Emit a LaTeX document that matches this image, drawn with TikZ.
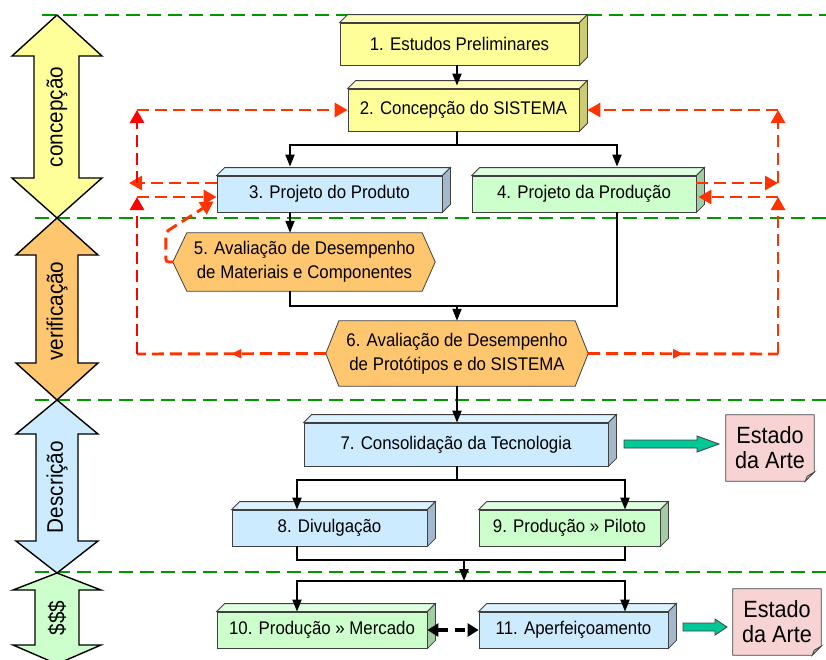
\documentclass[tikz,border=0pt]{standalone}
\usepackage{fontspec}
\setmainfont{Liberation Sans}[FakeStretch=0.92]
\usetikzlibrary{arrows.meta,decorations.markings,backgrounds}
\definecolor{yfront}{HTML}{FFFF99}
\definecolor{ytop}{HTML}{FFFFBB}
\definecolor{yside}{HTML}{CCCC77}
\definecolor{bfront}{HTML}{CCEBFF}
\definecolor{btop}{HTML}{DDF2FF}
\definecolor{bside}{HTML}{A3B8CC}
\definecolor{gfront}{HTML}{CCFFCC}
\definecolor{gtop}{HTML}{E0FFE0}
\definecolor{gside}{HTML}{A3CCA3}
\definecolor{ofront}{HTML}{FFC670}
\definecolor{pinkfill}{HTML}{F8D3D3}
\definecolor{pinkfold}{HTML}{E0B8B8}
\definecolor{teal}{HTML}{00C896}
\definecolor{fbred}{HTML}{FF3300}
\definecolor{gdash}{HTML}{009900}
\definecolor{edge}{HTML}{404040}
\newcommand{\boxfaces}[3]{%
  \filldraw[boxline,fill=#2] (#1.north west) -- ++(8,-8) -- ([shift={(8,-8)}]#1.north east) -- (#1.north east) -- cycle;
  \filldraw[boxline,fill=#3] (#1.north east) -- ++(8,-8) -- ([shift={(8,-8)}]#1.south east) -- (#1.south east) -- cycle;
}
\begin{document}
\begin{tikzpicture}[x=1pt,y=-1pt,
  boxline/.style={draw=edge,line width=0.8pt},
  cube/.style={boxline,rectangle,inner sep=0pt,font=\fontsize{18.3}{24}\selectfont,align=center},
  hexnode/.style={rectangle,inner sep=0pt,font=\fontsize{18.3}{24}\selectfont,align=center},
  estado/.style={rectangle,inner sep=0pt,minimum width=88pt,minimum height=66pt,font=\fontsize{23.5}{25}\selectfont,align=center},
  bandlabel/.style={rotate=90,inner sep=0pt,font=\fontsize{22.5}{24}\selectfont},
  band/.style={draw=black,line width=1.4pt,line join=miter},
  plain/.style={line width=1.9pt,line join=miter},
  conn/.style={plain,-{Triangle[length=12pt,width=9pt]}},
  fb/.style={draw=fbred,line width=2.9pt,dash pattern=on 12pt off 6pt},
  fbarrow/.style={fb,-{Triangle[length=13pt,width=14pt]}},
  midarrow/.style={postaction={decorate},decoration={markings,mark=at position 0.5 with {\arrow{Triangle[length=10pt,width=9pt]}}}},
  gline/.style={draw=gdash,line width=1.8pt,dash pattern=on 14pt off 7pt},
  blockarrow/.style={fill=teal,draw=edge,line width=0.8pt}
]
\useasboundingbox (0,0) rectangle (826,659);
\clip (0,0) rectangle (826,659);

% green dashed band separators
\draw[gline] (42,15) -- (826,15);
\draw[gline] (35,218) -- (826,218);
\draw[gline] (35,400) -- (826,400);
\draw[gline] (35,572) -- (826,572);

% left double block arrows
\filldraw[band,fill=yfront] (57,15) -- (102,56) -- (79,56) -- (79,178) -- (102,178) -- (57,218) -- (12,178) -- (34,178) -- (34,56) -- (12,56) -- cycle;
\filldraw[band,fill=ofront] (57,218) -- (98,255) -- (78,255) -- (78,363) -- (98,363) -- (57,400) -- (16,363) -- (36,363) -- (36,255) -- (16,255) -- cycle;
\filldraw[band,fill=bfront] (57,400) -- (98,434) -- (78,434) -- (78,541) -- (98,541) -- (57,573) -- (16,541) -- (36,541) -- (36,434) -- (16,434) -- cycle;
\filldraw[band,fill=gfront] (57,573) -- (101,590) -- (79,590) -- (79,645) -- (101,645) -- (57,664) -- (13,645) -- (35,645) -- (35,590) -- (13,590) -- cycle;
\node[bandlabel] (l1) at (57,117) {concepção};
\node[bandlabel] (l2) at (57,311) {verificação};
\node[bandlabel] (l3) at (57,487) {Descrição};
\node[bandlabel] (l4) at (57,618) {\$\$\$};

% boxes
\node[cube,fill=yfront,minimum width=239pt,minimum height=42pt] (b1) at (459.5,44) {1. Estudos Preliminares};
\boxfaces{b1}{ytop}{yside}
\node[cube,fill=yfront,minimum width=231pt,minimum height=42pt] (b2) at (463.5,110) {2. Concepção do SISTEMA};
\boxfaces{b2}{ytop}{yside}
\node[cube,fill=bfront,minimum width=225pt,minimum height=36pt] (b3) at (329.5,194) {3. Projeto do Produto};
\boxfaces{b3}{btop}{bside}
\node[cube,fill=gfront,minimum width=224pt,minimum height=36pt] (b4) at (584,194) {4. Projeto da Produção};
\boxfaces{b4}{gtop}{gside}

\node[hexnode,minimum width=235pt,minimum height=58pt] (b5) at (304.5,262) {5. Avaliação de Desempenho\\de Materiais e Componentes};
\begin{scope}[on background layer]
\filldraw[boxline,fill=ofront] (b5.north west) -- (b5.north east) -- ([xshift=13pt]b5.east) -- (b5.south east) -- (b5.south west) -- ([xshift=-14pt]b5.west) -- cycle;
\end{scope}
\node[hexnode,minimum width=236pt,minimum height=65pt] (b6) at (457,353.5) {6. Avaliação de Desempenho\\de Protótipos e do SISTEMA};
\begin{scope}[on background layer]
\filldraw[boxline,fill=ofront] (b6.north west) -- (b6.north east) -- ([xshift=13pt]b6.east) -- (b6.south east) -- (b6.south west) -- ([xshift=-13pt]b6.west) -- cycle;
\end{scope}

\node[cube,fill=bfront,minimum width=304pt,minimum height=43pt] (b7) at (456,444.5) {7. Consolidação da Tecnologia};
\boxfaces{b7}{btop}{bside}
\node[cube,fill=bfront,minimum width=195pt,minimum height=36pt] (b8) at (329.5,528) {8. Divulgação};
\boxfaces{b8}{btop}{bside}
\node[cube,fill=gfront,minimum width=181pt,minimum height=36pt] (b9) at (569.5,528) {9. Produção » Piloto};
\boxfaces{b9}{gtop}{gside}
\node[cube,fill=gfront,minimum width=210pt,minimum height=36pt] (b10) at (322,630) {10. Produção » Mercado};
\boxfaces{b10}{gtop}{gside}
\node[cube,fill=bfront,minimum width=189pt,minimum height=36pt] (b11) at (573.5,630) {11. Aperfeiçoamento};
\boxfaces{b11}{btop}{bside}

% Estado da Arte notes
\node[estado] (e1) at (770,448) {Estado\\da Arte};
\node[estado] (e2) at (777,622) {Estado\\da Arte};
\begin{scope}[on background layer]
\foreach \e in {e1,e2}{
  \filldraw[boxline,fill=pinkfill] (\e.north west) -- (\e.north east) -- ([yshift=9pt]\e.south east) -- ([xshift=-9pt]\e.south east) -- (\e.south west) -- cycle;
  \filldraw[boxline,fill=pinkfold] ([yshift=9pt]\e.south east) -- ([xshift=-9pt]\e.south east) -- ([xshift=-7pt,yshift=5pt]\e.south east) -- cycle;
}
\end{scope}

% teal block arrows
\filldraw[blockarrow] (624,440) -- (697,440) -- (697,436) -- (719,444) -- (697,452) -- (697,448) -- (624,448) -- cycle;
\filldraw[blockarrow] (683,623) -- (715,623) -- (715,619) -- (727,627) -- (715,635) -- (715,631) -- (683,631) -- cycle;

% black connectors
\coordinate (h1) at (457,145);
\coordinate (x3) at (290,0);
\coordinate (x4) at (617,0);
\coordinate (h2) at (457,306);
\coordinate (h3) at (457,480);
\coordinate (x8) at (297,0);
\coordinate (x9) at (625,0);
\coordinate (h4) at (464,560);
\coordinate (h5) at (464,581);

\draw[conn] (b1.south -| h1) -- ([yshift=3pt]b2.north -| h1);
\draw[plain] (b2.south -| h1) -- (h1);
\draw[conn] (h1) -| ([yshift=9pt]x3 |- b3.north);
\draw[conn] (h1) -| ([yshift=9pt]x4 |- b4.north);
\draw[conn] (x3 |- b3.south) -- (x3 |- b5.north);
\draw[plain] (x3 |- b5.south) |- (x4 |- h2) -- (x4 |- b4.south);
\draw[conn] (h2) -- (h2 |- b6.north);
\draw[conn] (b6.south) -- (b6.south |- b7.north);
\draw[plain] (h3 |- b7.south) -- (h3);
\draw[conn] (h3) -| (x8 |- b8.north);
\draw[conn] (h3) -| (x9 |- b9.north);
\draw[plain] (x8 |- b8.south) |- (x9 |- h4) -- (x9 |- b9.south);
\draw[conn] (h4) -- (h5);
\draw[conn] (h5) -| (x8 |- b10.north);
\draw[conn] (h5) -| (x9 |- b11.north);
\draw[line width=3.5pt,dash pattern=on 10pt off 7pt,{Triangle[length=11pt,width=13pt]}-{Triangle[length=11pt,width=13pt]}] (b10.east) -- (b11.west);

% red dashed feedback loops
\coordinate (L2) at (137,110);
\coordinate (L3a) at (137,183);
\coordinate (L3t) at (129,183);
\coordinate (L3b) at (137,197);
\coordinate (L6) at (137,354);
\coordinate (R2) at (778,110);
\coordinate (R4a) at (778,183);
\coordinate (R4b) at (778,197);
\coordinate (R6) at (778,354);

\draw[fbarrow] (b3.west |- L3a) -- (L3t);
\draw[fbarrow,draw=red] (L3a) -- (L2);
\draw[fbarrow] (L2) -- (b2.west);
\draw[fb,midarrow] ([xshift=-13pt]b6.west) -- (L6);
\draw[fbarrow,draw=red] (L6) -- (L3b);
\draw[fbarrow] (L3b) -- (L3b -| b3.west);

\draw[fbarrow] (R2) -- ([xshift=8pt]b2.east);
\draw[fbarrow] (R4a) -- (R2);
\draw[fbarrow] (R4a -| b4.east) -- (R4a);
\draw[fb,midarrow] ([xshift=13pt]b6.east) -- (R6);
\draw[fbarrow] (R6) -- (R4b);
\draw[fbarrow] (R4b) -- ([xshift=2pt]R4b -| b4.east);

\draw[fbarrow,rounded corners=3pt] ([xshift=-14pt]b5.west) -- ++(-7,0) -- ++(0,-30) -- ([shift={(-3,-11)}]b3.south west);
\end{tikzpicture}
\end{document}
